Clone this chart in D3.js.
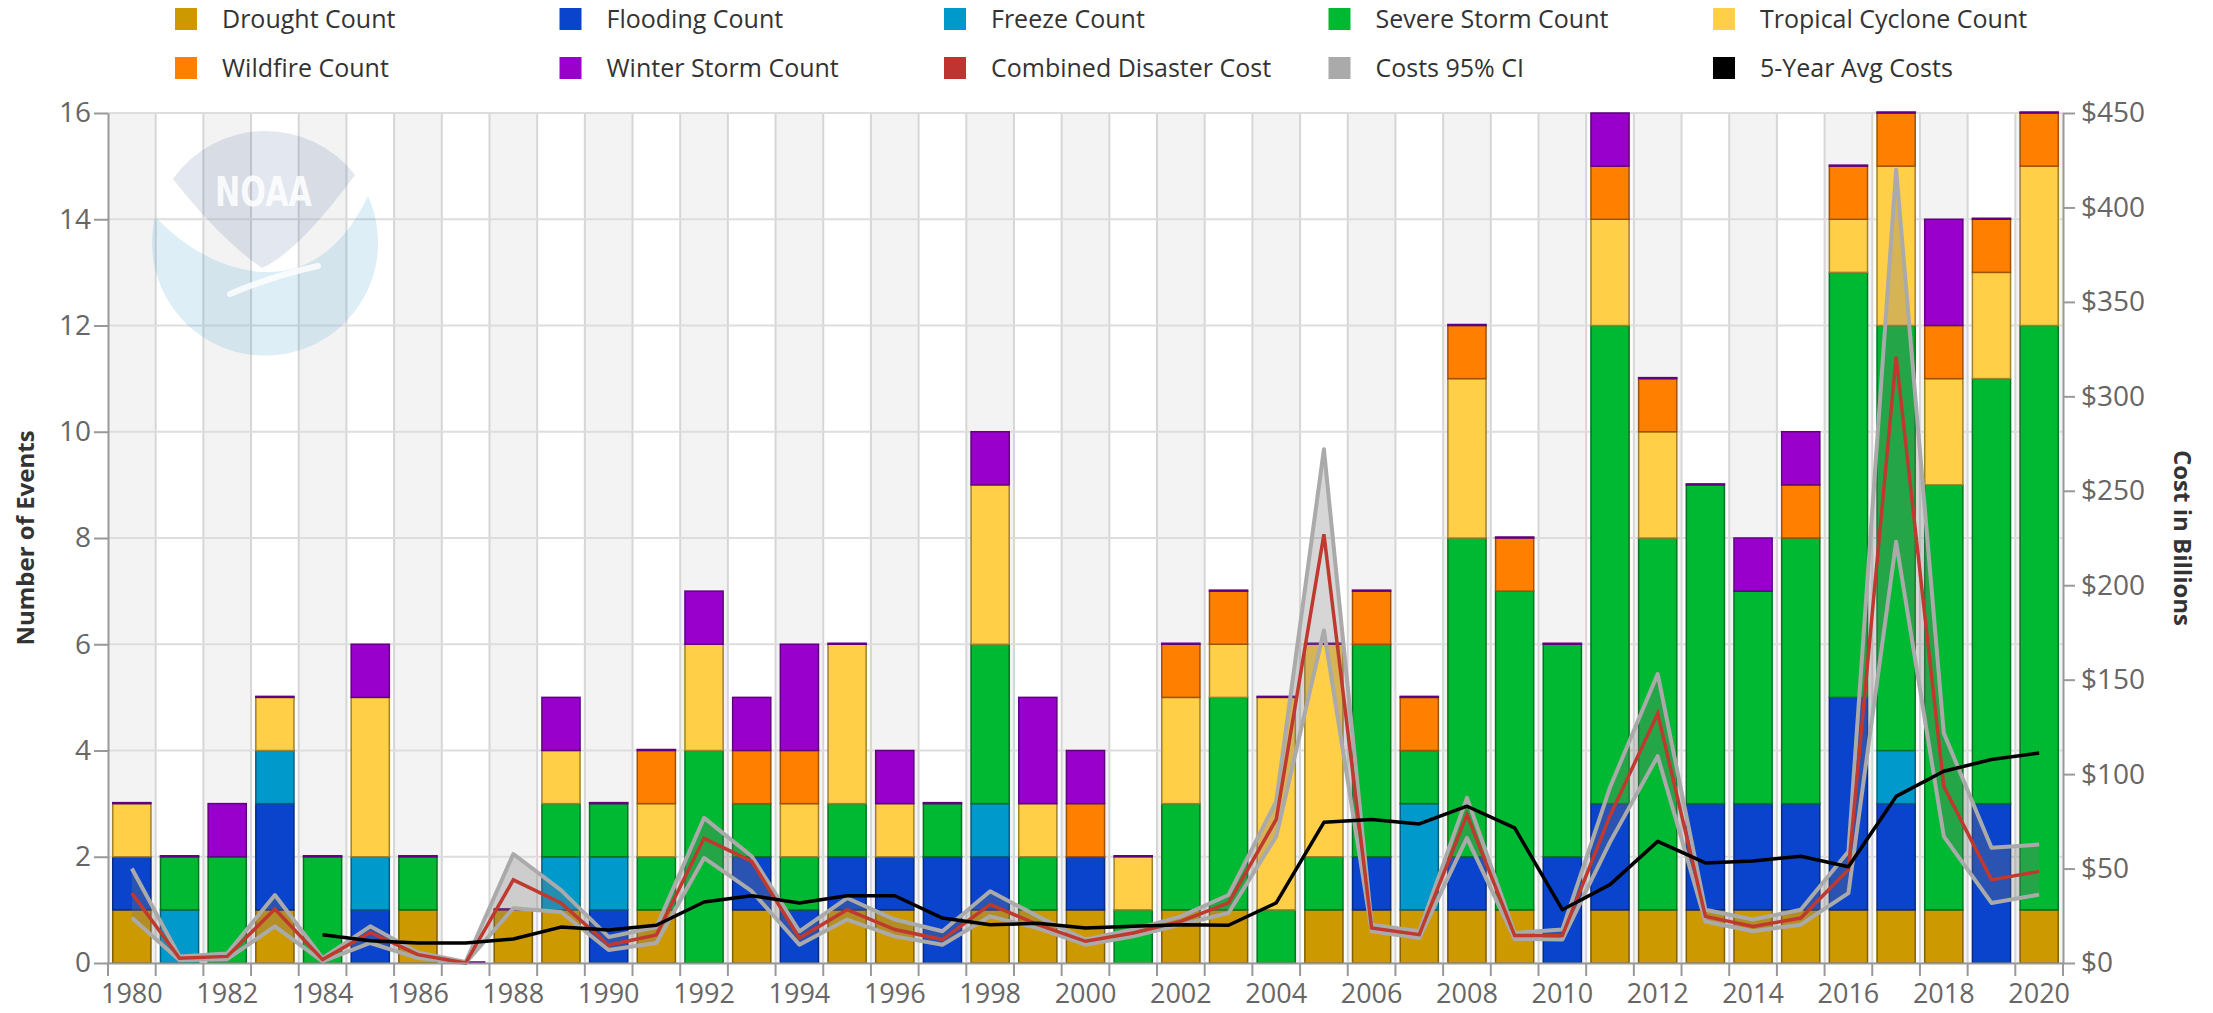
<!DOCTYPE html>
<html>
<head>
<meta charset="utf-8">
<script src="https://cdn.jsdelivr.net/npm/d3@7/dist/d3.min.js"></script>
<style>
  body { margin: 0; background: #fff; }
  #graf { width: 2213px; height: 1013px; }
  text { font-family: 'Open Sans', sans-serif; }
  .eje text { fill: #666; font-size: 28px; }
  .eje-x text { font-size: 27px; }
  .eje path, .eje line { stroke: #999; stroke-width: 2px; }
  .leyenda text { fill: #333; font-size: 25px; }
  .titulo-eje { fill: #333; font-size: 24px; font-weight: bold; }
</style>
</head>
<body>
<div id="graf"></div>
<script>
// I. Datos
anos = [1980, 1981, 1982, 1983, 1984, 1985, 1986, 1987, 1988, 1989,
        1990, 1991, 1992, 1993, 1994, 1995, 1996, 1997, 1998, 1999,
        2000, 2001, 2002, 2003, 2004, 2005, 2006, 2007, 2008, 2009,
        2010, 2011, 2012, 2013, 2014, 2015, 2016, 2017, 2018, 2019, 2020]

sequia     = [1,0,0,1,0,0,1,0,1,1, 0,1,0,1,0,1,1,0,1,1, 1,0,1,1,0,1,1,1,1,1, 0,1,1,1,1,1,1,1,1,0, 1]
inundacion = [1,0,0,2,0,1,0,0,0,0, 1,0,0,1,1,1,1,2,1,0, 1,0,0,0,0,0,1,0,1,0, 2,2,0,2,2,2,4,2,0,3, 0]
helada     = [0,1,0,1,0,1,0,0,0,1, 1,0,0,0,0,0,0,0,1,0, 0,0,0,0,0,0,0,2,0,0, 0,0,0,0,0,0,0,1,0,0, 0]
tormenta   = [0,1,2,0,2,0,1,0,0,1, 1,1,4,1,1,1,0,1,3,1, 0,1,2,4,1,1,4,1,6,6, 4,9,7,6,4,5,8,8,8,8, 11]
ciclon     = [1,0,0,1,0,3,0,0,0,1, 0,1,2,0,1,3,1,0,3,1, 0,1,2,1,4,4,0,0,3,0, 0,2,2,0,0,0,1,3,2,2, 3]
incendio   = [0,0,0,0,0,0,0,0,0,0, 0,1,0,1,1,0,0,0,0,0, 1,0,1,1,0,0,1,1,1,1, 0,1,1,0,0,1,1,1,1,1, 1]
invierno   = [0,0,1,0,0,1,0,0,0,1, 0,0,1,1,2,0,1,0,1,2, 1,0,0,0,0,0,0,0,0,0, 0,1,0,0,1,1,0,0,2,0, 0]

// costos en miles de millones de dolares
costo    = [37, 2.5, 3.5, 28.6, 1.8, 16.2, 4.4, 0, 44, 31.8,
            9.5, 14.8, 66, 53.8, 13.2, 28.2, 17.7, 12.4, 31, 20.3,
            11.5, 15.9, 22, 31.8, 76, 227, 18.5, 15, 78.5, 14.5,
            14.5, 78, 132, 24.7, 19.4, 23.8, 49.4, 321, 93.5, 44, 48.5]
ciAlto   = [50, 3.5, 5, 36, 2.6, 19.4, 5.6, 0.5, 57.7, 38.6,
            13.8, 19, 76.8, 56.5, 16.8, 34.4, 23, 16.8, 38, 24.7,
            12.4, 17.7, 24.7, 36, 85.6, 272, 20.3, 16.8, 87.4, 15.9,
            17.7, 93, 153, 28.2, 23, 28.2, 59, 420, 121.8, 61, 62.7]
ciBajo   = [24, 1.5, 2, 19.4, 0.9, 10.6, 2.6, 0, 29, 27,
            6.9, 10.6, 55.6, 38, 9.7, 23, 14.1, 9.7, 24.7, 18.5,
            9.7, 14.1, 20.3, 26.5, 67, 176, 16.8, 13.2, 66.2, 12.7,
            12.4, 64, 109.5, 22, 16.8, 20.3, 37, 223, 67, 31.8, 36.2]
promedio5 = [null, null, null, null, 15, 11.8, 10.6, 10.6, 12.7, 19,
             17.5, 20, 32.3, 35.6, 31.8, 35.6, 35.6, 23.8, 20.3, 21,
             18.5, 19.4, 20.3, 20, 31.8, 74.5, 76, 73.6, 83, 71.5,
             28.2, 41.5, 64.4, 53, 54, 56.5, 51, 88.2, 101.5, 107.7, 111.2]

ticksEventos = [0, 2, 4, 6, 8, 10, 12, 14, 16]
ticksCosto = [0, 50, 100, 150, 200, 250, 300, 350, 400, 450]

series = [
  { clave: 'sequia',     nombre: 'Drought Count',          color: '#cc9900', datos: sequia },
  { clave: 'inundacion', nombre: 'Flooding Count',         color: '#0b44cc', datos: inundacion },
  { clave: 'helada',     nombre: 'Freeze Count',           color: '#0099cc', datos: helada },
  { clave: 'tormenta',   nombre: 'Severe Storm Count',     color: '#00b933', datos: tormenta },
  { clave: 'ciclon',     nombre: 'Tropical Cyclone Count', color: '#ffcf48', datos: ciclon },
  { clave: 'incendio',   nombre: 'Wildfire Count',         color: '#ff8000', datos: incendio },
  { clave: 'invierno',   nombre: 'Winter Storm Count',     color: '#9900cc', datos: invierno }
]
leyenda = series.map(s => ({ nombre: s.nombre, color: s.color })).concat([
  { nombre: 'Combined Disaster Cost', color: '#bf3330' },
  { nombre: 'Costs 95% CI', color: '#aaaaaa' },
  { nombre: '5-Year Avg Costs', color: '#000000' }
])

// II. Configuración
graf = d3.select('#graf')
ancho_total = 2213
alto_total = 1013
margins = { top: 113, left: 108, right: 150, bottom: 50 }
ancho = ancho_total - margins.left - margins.right
alto  = alto_total - margins.top - margins.bottom

svg = graf.append('svg')
          .attr('width', ancho_total)
          .attr('height', alto_total)

g = svg.append('g')
        .attr('transform', `translate(${ margins.left }, ${ margins.top })`)

x = d3.scaleBand().domain(anos).range([0, ancho]).padding(0)
yL = d3.scaleLinear().domain([0, 16]).range([alto, 0])
yR = d3.scaleLinear().domain([0, 450]).range([alto, 0])

tabla = anos.map((a, i) => {
  fila = { ano: a }
  series.forEach(s => fila[s.clave] = s.datos[i])
  return fila
})
pila = d3.stack().keys(series.map(s => s.clave))(tabla)

// III. Fondo y rejilla
g.selectAll('.banda')
  .data(anos.filter((a, i) => i % 2 == 0))
  .enter().append('rect')
    .attr('x', d => x(d))
    .attr('y', 0)
    .attr('width', x.bandwidth())
    .attr('height', alto)
    .attr('fill', '#f3f3f3')

g.selectAll('.rejillaV')
  .data(anos.slice(1))
  .enter().append('line')
    .attr('x1', d => x(d)).attr('x2', d => x(d))
    .attr('y1', 0).attr('y2', alto)
    .attr('stroke', '#d6d6d6').attr('stroke-width', 2)

g.selectAll('.rejillaH')
  .data(ticksEventos)
  .enter().append('line')
    .attr('x1', 0).attr('x2', ancho)
    .attr('y1', d => yL(d)).attr('y2', d => yL(d))
    .attr('stroke', '#dddddd').attr('stroke-width', 2)

// logo NOAA de fondo
logo = svg.append('g')
logo.append('path')
    .attr('d', 'M155,217 Q205,268 262,272 Q330,275 368,196 A113,113 0 1 1 155,217 Z')
    .attr('fill', '#3399cc').attr('fill-opacity', 0.17)
logo.append('path')
    .attr('d', 'M173,179 A113,113 0 0 1 355,175 Q298,252 262,268 Q221,240 173,179 Z')
    .attr('fill', '#1a3a7a').attr('fill-opacity', 0.12)
logo.append('path')
    .attr('d', 'M230,294 Q272,276 318,266')
    .attr('stroke', '#fff').attr('stroke-opacity', 0.8)
    .attr('stroke-width', 6).attr('fill', 'none').attr('stroke-linecap', 'round')
logo.append('text')
    .attr('x', 215).attr('y', 206)
    .attr('textLength', 97).attr('lengthAdjust', 'spacingAndGlyphs')
    .style('font-family', 'DejaVu Sans').style('font-weight', 'bold')
    .style('font-size', '40px')
    .attr('fill', '#fff').attr('fill-opacity', 0.85)
    .text('NOAA')

// IV. Barras apiladas
ancho_barra = x.bandwidth() * 0.8
capas = g.selectAll('.capa')
  .data(pila)
  .enter().append('g')
    .attr('fill', (d, i) => series[i].color)
    .attr('stroke', (d, i) => d3.color(series[i].color).darker(1.3))
    .attr('stroke-width', 1.5)

capas.selectAll('rect')
  .data((d, i) => d.map(p => ({ p: p, tope: i == series.length - 1 })))
  .enter().append('rect')
    .filter(d => d.p[1] > d.p[0] || d.tope)
    .attr('x', d => x(d.p.data.ano) + (x.bandwidth() - ancho_barra) / 2)
    .attr('width', ancho_barra)
    .attr('y', d => yL(d.p[1]) - (d.p[1] > d.p[0] ? 0 : 1))
    .attr('height', d => Math.max(yL(d.p[0]) - yL(d.p[1]), 1))

// V. Líneas de costo
cx = a => x(a) + x.bandwidth() / 2

area = d3.area()
  .x((d, i) => cx(anos[i]))
  .y0((d, i) => yR(ciBajo[i]))
  .y1(d => yR(d))
g.append('path')
  .datum(ciAlto)
  .attr('d', area)
  .attr('fill', 'rgba(120,120,120,0.3)')

linea = d3.line()
  .defined(d => d != null)
  .x((d, i) => cx(anos[i]))
  .y(d => yR(d))

;[ciAlto, ciBajo].forEach(serie => {
  g.append('path')
    .datum(serie)
    .attr('d', linea)
    .attr('fill', 'none')
    .attr('stroke', '#aaaaaa')
    .attr('stroke-width', 4)
    .attr('stroke-linejoin', 'round')
})

g.append('path')
  .datum(costo)
  .attr('d', linea)
  .attr('fill', 'none')
  .attr('stroke', '#c0392f')
  .attr('stroke-width', 3.5)

g.append('path')
  .datum(promedio5)
  .attr('d', linea)
  .attr('fill', 'none')
  .attr('stroke', '#000')
  .attr('stroke-width', 3.5)
  .attr('stroke-linejoin', 'round')

// VI. Ejes
yAxisGroup = g.append('g')
  .attr('class', 'eje')
  .call(d3.axisLeft(yL).tickValues(ticksEventos).tickSize(14).tickPadding(3).tickSizeOuter(0))

y2AxisGroup = g.append('g')
  .attr('class', 'eje')
  .attr('transform', `translate(${ ancho }, 0)`)
  .call(d3.axisRight(yR).tickValues(ticksCosto).tickSize(12).tickPadding(6).tickSizeOuter(0)
          .tickFormat(d => '$' + d))

xAxisGroup = g.append('g')
  .attr('class', 'eje eje-x')
  .attr('transform', `translate(0, ${ alto })`)
  .call(d3.axisBottom(x).tickValues(anos.filter((a, i) => i % 2 == 0)).tickSize(0).tickPadding(21).tickSizeOuter(0))

xAxisGroup.selectAll('.marca')
  .data(anos.slice(1).map(a => x(a)).concat([0, ancho]))
  .enter().append('line')
    .attr('x1', d => d).attr('x2', d => d)
    .attr('y1', 0).attr('y2', 13)
    .attr('stroke', '#999').attr('stroke-width', 2)

svg.append('text')
  .attr('class', 'titulo-eje')
  .attr('transform', `translate(34, ${ margins.top + alto / 2 }) rotate(-90)`)
  .attr('text-anchor', 'middle')
  .text('Number of Events')

svg.append('text')
  .attr('class', 'titulo-eje')
  .attr('transform', `translate(2174, ${ margins.top + alto / 2 }) rotate(90)`)
  .attr('text-anchor', 'middle')
  .text('Cost in Billions')

// VII. Leyenda
items = svg.append('g')
  .attr('class', 'leyenda')
  .selectAll('g')
  .data(leyenda)
  .enter().append('g')
    .attr('transform', (d, i) => `translate(${ 175 + (i % 5) * 384.5 }, ${ i < 5 ? 19 : 68 })`)

items.append('rect')
  .attr('x', 0).attr('y', -11)
  .attr('width', 22).attr('height', 22)
  .attr('fill', d => d.color)

items.append('text')
  .attr('x', 47)
  .attr('dy', '0.35em')
  .text(d => d.nombre)
</script>
</body>
</html>
